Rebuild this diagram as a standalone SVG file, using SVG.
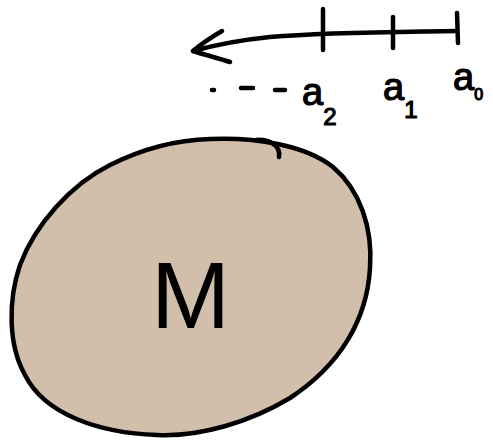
<svg xmlns="http://www.w3.org/2000/svg" width="493" height="440" viewBox="0 0 493 440">
<style>
.ink{fill:none;stroke:#000;stroke-width:4.5;stroke-linecap:round;stroke-linejoin:round}
.lbl{font-family:"Liberation Sans",Arial,sans-serif;fill:#000;stroke:#000;stroke-width:1.2}
</style>
<rect width="493" height="440" fill="#fff"/>
<g id="mass">
<path d="M210,139 C255,137 305,145 333,167 C360,190 373,228 370,268 C367,320 340,365 290,398 C250,422 200,437 157,435 C100,433 45,415 25,375 C8,345 8,300 20,265 C35,225 70,185 110,165 C140,150 175,140 210,139 Z" fill="#D2BFAB" stroke="#000" stroke-width="4.5"/>
<path class="ink" d="M256,140 C268,139 281,145 279,157" stroke-width="4.5"/>
<text x="151" y="328" font-size="95" font-family="'Liberation Sans',Arial,sans-serif" fill="#000">M</text>
</g>
<g id="connectors">
<path class="ink" d="M457,31 C400,32 330,32 270,37 C240,40 215,45 193,51"/>
<path class="ink" d="M222,31 C210,38 200,45 193,51 C205,55 218,58 230,62"/>
<path class="ink" d="M323,9 L323,50"/>
<path class="ink" d="M393,17 L393,48"/>
<path class="ink" d="M457,13 L458,43"/>
</g>
<g id="labels">
<path class="ink" d="M212,90 L214,90 M241,88 L253,88 M275,90 L285,90" stroke-width="5"/>
<text class="lbl" x="302" y="105" font-size="38">a<tspan font-size="24" y="125">2</tspan></text>
<text class="lbl" x="383" y="100" font-size="38">a<tspan font-size="24" y="118">1</tspan></text>
<text class="lbl" x="453" y="90" font-size="38">a<tspan font-size="16" y="100">0</tspan></text>
</g>
</svg>
